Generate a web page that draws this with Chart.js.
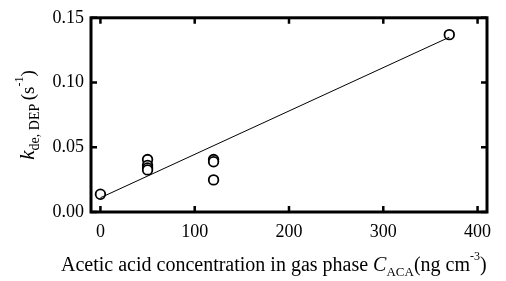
<!DOCTYPE html>
<html>
<head>
<meta charset="utf-8">
<script src="https://cdn.jsdelivr.net/npm/chart.js@4.4.0/dist/chart.umd.min.js"></script>
<style>
  html, body { margin: 0; padding: 0; background: #fff; }
  #wrap { width: 506px; height: 281px; }
</style>
</head>
<body>
<div id="wrap"><canvas id="chart"></canvas></div>
<script>
// measured points (x: ng cm-3, y: s-1)
const concX = [0, 50, 50, 50, 50, 120, 120, 120, 370];
const kdeY = [0.0137, 0.0405, 0.036, 0.034, 0.0325, 0.0405, 0.0388, 0.0248, 0.137];
// fitted line end points
const fitX = [0, 370];
const fitY = [0.011, 0.135];
const xTicks = [0, 100, 200, 300, 400];
const yTicks = [0, 0.05, 0.10, 0.15];

const FONT = "'Liberation Serif', 'DejaVu Serif', serif";

function drawRich(ctx, parts, x, y) {
  parts.forEach(p => {
    ctx.font = p.f;
    ctx.fillText(p.t, x, y + p.dy);
    x += ctx.measureText(p.t).width;
  });
}

function richWidth(ctx, parts) {
  let w = 0;
  parts.forEach(p => { ctx.font = p.f; w += ctx.measureText(p.t).width; });
  return w;
}

const framePlugin = {
  id: 'frame',
  afterDraw(chart) {
    const { ctx, chartArea: a, scales } = chart;
    ctx.save();
    ctx.strokeStyle = '#000';
    // inward ticks
    ctx.lineWidth = 2.5;
    ctx.beginPath();
    xTicks.forEach(v => {
      const px = scales.x.getPixelForValue(v);
      ctx.moveTo(px, a.bottom); ctx.lineTo(px, a.bottom - 6);
      ctx.moveTo(px, a.top); ctx.lineTo(px, a.top + 6);
    });
    yTicks.forEach(v => {
      const py = scales.y.getPixelForValue(v);
      ctx.moveTo(a.left, py); ctx.lineTo(a.left + 6, py);
      ctx.moveTo(a.right, py); ctx.lineTo(a.right - 6, py);
    });
    ctx.stroke();
    ctx.lineWidth = 3;
    ctx.strokeRect(a.left, a.top, a.right - a.left, a.bottom - a.top);

    ctx.fillStyle = '#000';
    ctx.textBaseline = 'alphabetic';
    ctx.textAlign = 'left';

    // x title
    const xParts = [
      { t: 'Acetic acid concentration in gas phase ', f: '20px ' + FONT, dy: 0 },
      { t: 'C', f: 'italic 20px ' + FONT, dy: 0 },
      { t: 'ACA', f: '13px ' + FONT, dy: 5 },
      { t: '(ng cm', f: '20px ' + FONT, dy: 0 },
      { t: '-3', f: '12px ' + FONT, dy: -11 },
      { t: ')', f: '20px ' + FONT, dy: 0 }
    ];
    drawRich(ctx, xParts, 61, 271);

    // y title, rotated
    ctx.save();
    ctx.translate(34, 115);
    ctx.rotate(-Math.PI / 2);
    const yParts = [
      { t: 'k', f: 'italic 21px ' + FONT, dy: 0 },
      { t: 'de, DEP ', f: '14px ' + FONT, dy: 5 },
      { t: '(s', f: '19px ' + FONT, dy: 0 },
      { t: '-1', f: '12px ' + FONT, dy: -11 },
      { t: ')', f: '19px ' + FONT, dy: 0 }
    ];
    drawRich(ctx, yParts, -richWidth(ctx, yParts) / 2, 0);
    ctx.restore();
    ctx.restore();
  }
};

new Chart(document.getElementById('chart'), {
  type: 'scatter',
  data: {
    datasets: [
      {
        data: fitX.map((v, i) => ({ x: v, y: fitY[i] })),
        showLine: true,
        borderColor: '#000',
        borderWidth: 1,
        pointRadius: 0
      },
      {
        data: concX.map((v, i) => ({ x: v, y: kdeY[i] })),
        pointStyle: 'circle',
        pointRadius: 4.8,
        pointBorderWidth: 1.8,
        pointBorderColor: '#000',
        pointBackgroundColor: '#fff'
      }
    ]
  },
  options: {
    responsive: true,
    maintainAspectRatio: false,
    animation: false,
    layout: { padding: { left: 0, top: 14, right: 19, bottom: 0 } },
    plugins: { legend: { display: false }, tooltip: { enabled: false } },
    scales: {
      x: {
        type: 'linear',
        min: -10,
        max: 410,
        afterBuildTicks: s => { s.ticks = xTicks.map(v => ({ value: v })); },
        afterFit: s => { s.height = 69; },
        grid: { display: false, drawTicks: false },
        border: { display: false },
        ticks: { color: '#000', padding: 9, font: { family: FONT, size: 18 } }
      },
      y: {
        type: 'linear',
        min: 0,
        max: 0.15,
        afterBuildTicks: s => { s.ticks = yTicks.map(v => ({ value: v })); },
        afterFit: s => { s.width = 91; },
        grid: { display: false, drawTicks: false },
        border: { display: false },
        ticks: {
          color: '#000',
          padding: 7,
          font: { family: FONT, size: 18 },
          callback: v => v.toFixed(2)
        }
      }
    }
  },
  plugins: [framePlugin]
});
</script>
</body>
</html>
